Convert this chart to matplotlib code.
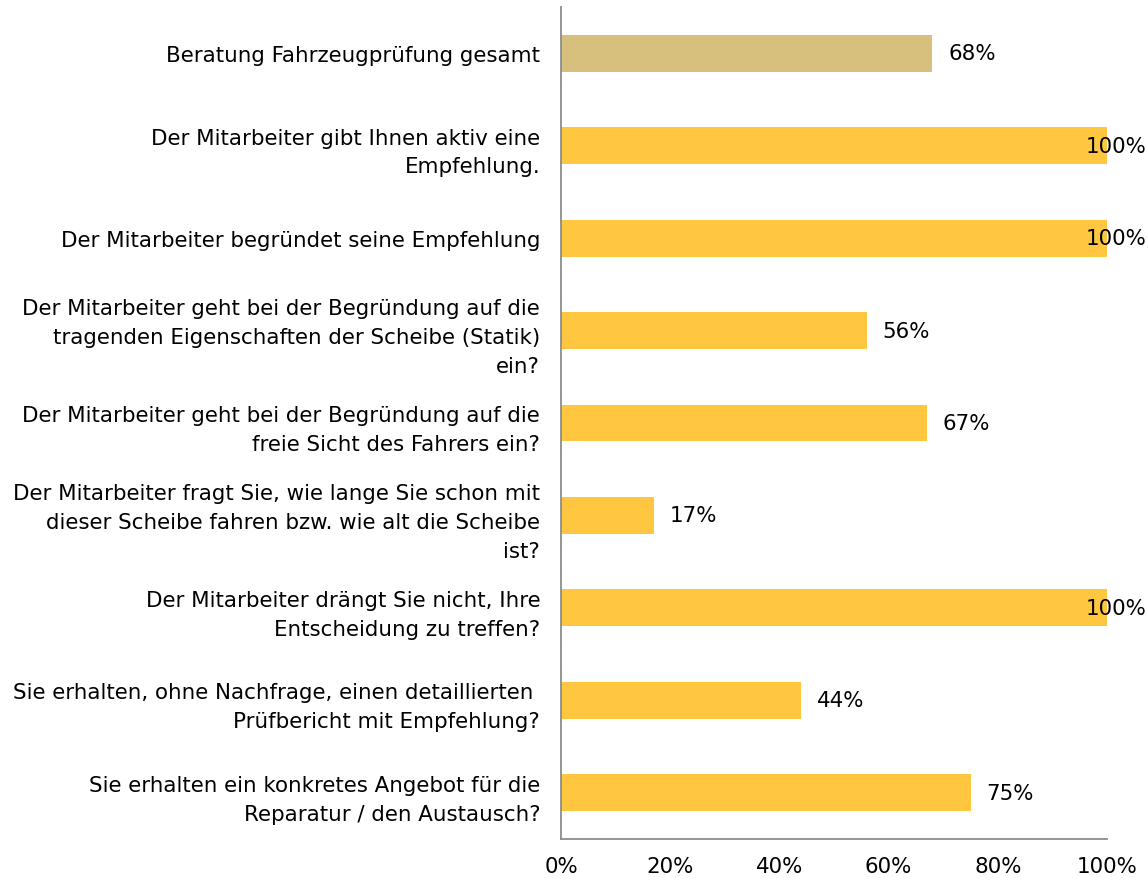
import matplotlib.pyplot as plt

categories = [
    "Beratung Fahrzeugprüfung gesamt",
    "Der Mitarbeiter gibt Ihnen aktiv eine\nEmpfehlung.",
    "Der Mitarbeiter begründet seine Empfehlung",
    "Der Mitarbeiter geht bei der Begründung auf die\ntragenden Eigenschaften der Scheibe (Statik)\nein?",
    "Der Mitarbeiter geht bei der Begründung auf die\nfreie Sicht des Fahrers ein?",
    "Der Mitarbeiter fragt Sie, wie lange Sie schon mit\ndieser Scheibe fahren bzw. wie alt die Scheibe\nist?",
    "Der Mitarbeiter drängt Sie nicht, Ihre\nEntscheidung zu treffen?",
    "Sie erhalten, ohne Nachfrage, einen detaillierten \nPrüfbericht mit Empfehlung?",
    "Sie erhalten ein konkretes Angebot für die\nReparatur / den Austausch?",
]
values = [68, 100, 100, 56, 67, 17, 100, 44, 75]
colors = ["#D7BF7D"] + ["#FFC640"] * 8

plt.rcParams['font.family'] = ['DejaVu Sans']
FS = 15.4

fig = plt.figure(figsize=(11.48, 8.79), dpi=100)
ax = fig.add_axes([561 / 1148, 1 - 840 / 879, 546 / 1148, 832 / 879])

pos = list(range(len(values)))
ax.barh(pos, values, height=0.4, color=colors)
ax.set_xlim(0, 100)
ax.set_ylim(len(values) - 0.5, -0.5)

ax.set_yticks(pos)
ax.set_yticklabels(categories, fontsize=FS, linespacing=1.55, ha='right')
ax.set_xticks(range(0, 101, 20))
ax.set_xticklabels([f"{t}%" for t in range(0, 101, 20)], fontsize=FS)
ax.tick_params(axis='both', length=0)
ax.tick_params(axis='y', pad=15)
ax.tick_params(axis='x', pad=12)

for s in ['top', 'right']:
    ax.spines[s].set_visible(False)
for s in ['left', 'bottom']:
    ax.spines[s].set_color('#8C8C8C')
    ax.spines[s].set_linewidth(1.3)

for i, v in enumerate(values):
    if v >= 95:
        ax.text(1.0, i, f"{v}%", transform=ax.get_yaxis_transform(), ha='left',
                va='center', fontsize=FS, clip_on=False)
    else:
        ax.text(v + 2.9, i, f"{v}%", ha='left', va='center', fontsize=FS)

# 100% labels sit against the right edge of the figure
fig.canvas.draw()
for t in ax.texts:
    if t.get_text() == "100%":
        bb = t.get_window_extent()
        shift = bb.x1 - 1146
        if shift > 0:
            x, y = t.get_position()
            t.set_position((x - shift / 546, y))

fig.savefig("out.png", dpi=100)
